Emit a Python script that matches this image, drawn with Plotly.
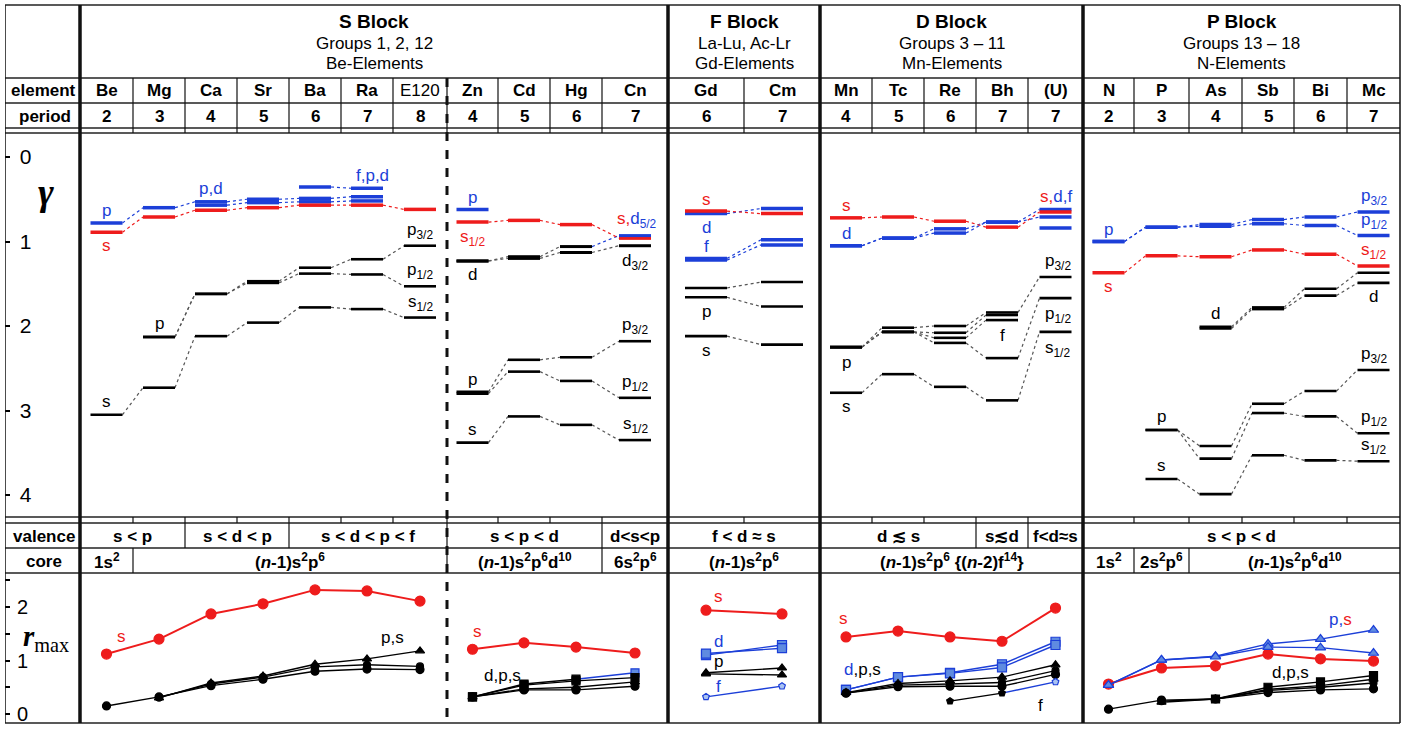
import plotly.graph_objects as go

W, H = 1403, 730
SANS = "Liberation Sans, Arial, sans-serif"
SERIF = "Liberation Serif, Times New Roman, serif"
RED = "#ee1c1c"
BLUE = "#1c3fd8"
BLUE_FILL = "#5f8be0"
BLACK = "#000000"
DOT = "#555555"

# ---------------- table content ----------------
elements = ["Be", "Mg", "Ca", "Sr", "Ba", "Ra", "E120",
            "Zn", "Cd", "Hg", "Cn",
            "Gd", "Cm",
            "Mn", "Tc", "Re", "Bh", "(U)",
            "N", "P", "As", "Sb", "Bi", "Mc"]
periods = [2, 3, 4, 5, 6, 7, 8, 4, 5, 6, 7, 6, 7, 4, 5, 6, 7, 7, 2, 3, 4, 5, 6, 7]

grp_s = elements[0:7]
grp_zn = elements[7:11]
grp_f = elements[11:13]
grp_d = elements[13:18]
grp_p = elements[18:24]

blocks = [("S Block", "Groups 1, 2, 12", "Be-Elements", "Be", "Cn"),
          ("F Block", "La-Lu, Ac-Lr", "Gd-Elements", "Gd", "Cm"),
          ("D Block", "Groups 3 \u2013 11", "Mn-Elements", "Mn", "(U)"),
          ("P Block", "Groups 13 \u2013 18", "N-Elements", "N", "Mc")]

valence_cells = [("s < p", "Be", "Mg"), ("s < d < p", "Ca", "Sr"),
                 ("s < d < p < f", "Ba", "E120"), ("s < p < d", "Zn", "Hg"),
                 ("d<s<p", "Cn", "Cn"), ("f < d \u2248 s", "Gd", "Cm"),
                 ("d \u2272 s", "Mn", "Re"), ("s\u2272d", "Bh", "Bh"),
                 ("f<d\u2248s", "(U)", "(U)"), ("s < p < d", "N", "Mc")]

NM1 = "(<i>n</i>-1)s<sup>2</sup>p<sup>6</sup>"
core_cells = [("1s<sup>2</sup>", "Be", "Be"), (NM1, "Mg", "E120"),
              (NM1 + "d<sup>10</sup>", "Zn", "Hg"), ("6s<sup>2</sup>p<sup>6</sup>", "Cn", "Cn"),
              (NM1, "Gd", "Cm"), (NM1 + " {(<i>n</i>-2)f<sup>14</sup>}", "Mn", "(U)"),
              ("1s<sup>2</sup>", "N", "N"), ("2s<sup>2</sup>p<sup>6</sup>", "P", "P"),
              (NM1 + "d<sup>10</sup>", "As", "Mc")]

# ---------------- gamma levels ----------------
# S block: Be Mg Ca Sr Ba Ra E120
sb_val_s = [0.89, 0.71, 0.63, 0.60, 0.57, 0.57, 0.62]
sb_val_p = [0.78, 0.60, 0.53, 0.50, 0.49, 0.47, None]
sb_val_d = [None, None, 0.57, 0.54, 0.53, 0.52, None]
sb_val_f = [None, None, None, None, 0.355, 0.37, None]
sb_core_s = [3.05, 2.73, 2.12, 1.96, 1.78, 1.80, 1.90]
sb_core_p3 = [None, 2.13, 1.62, 1.47, 1.31, 1.21, 1.05]
sb_core_p1 = [None, 2.13, 1.62, 1.49, 1.38, 1.39, 1.53]
# group 12: Zn Cd Hg Cn
zn_val_s = [0.77, 0.75, 0.80, 0.96]
zn_val_p = [0.62, None, None, None]
zn_d5 = [1.23, 1.18, 1.06, 0.93]
zn_d3 = [1.23, 1.20, 1.13, 1.05]
zn_core_p3 = [2.78, 2.40, 2.37, 2.18]
zn_core_p1 = [2.80, 2.54, 2.65, 2.85]
zn_core_s = [3.38, 3.07, 3.17, 3.35]
# F block: Gd Cm
f_val_s = [0.64, 0.67]
f_val_d = [0.67, 0.61]
f_val_f1 = [1.20, 0.98]
f_val_f2 = [1.22, 1.04]
f_core_p1 = [1.55, 1.48]
f_core_p2 = [1.66, 1.77]
f_core_s = [2.12, 2.22]
# D block: Mn Tc Re Bh (U)
d_val_s = [0.72, 0.71, 0.76, 0.83, 0.65]
d_val_d1 = [1.05, 0.96, 0.85, 0.77, 0.62]
d_val_d2 = [1.05, 0.96, 0.90, 0.77, 0.71]
d_val_f = [None, None, None, None, 0.84]
d_core_p1 = [2.25, 2.02, 2.00, 1.84, 1.42]
d_core_p2 = [2.25, 2.07, 2.08, 1.87, None]
d_core_p3 = [2.25, 2.07, 2.14, 1.93, None]
d_core_p4 = [2.25, 2.07, 2.20, 2.38, 1.67]
d_core_s = [2.79, 2.57, 2.72, 2.88, 2.07]
# P block: N P As Sb Bi Mc
p_val_p3 = [1.00, 0.83, 0.80, 0.74, 0.71, 0.65]
p_val_p1 = [1.00, 0.83, 0.82, 0.79, 0.81, 0.93]
p_val_s = [1.37, 1.17, 1.18, 1.10, 1.15, 1.29]
p_core_d1 = [None, None, 2.01, 1.78, 1.56, 1.37]
p_core_d2 = [None, None, 2.03, 1.80, 1.64, 1.49]
p_core_p3 = [None, 3.23, 3.42, 2.92, 2.77, 2.52]
p_core_p1 = [None, 3.23, 3.57, 3.03, 3.07, 3.27]
p_core_s = [None, 3.81, 3.99, 3.53, 3.59, 3.60]

# ---------------- r_max ----------------
sb_r_s = [1.12, 1.40, 1.87, 2.06, 2.32, 2.30, 2.11]
sb_r_p3 = [None, 0.30, 0.58, 0.71, 0.93, 1.03, 1.18]
sb_r_p1 = [None, 0.31, 0.56, 0.69, 0.88, 0.92, 0.89]
sb_r_cs = [0.15, 0.32, 0.53, 0.65, 0.80, 0.84, 0.83]
zn_r_s = [1.21, 1.33, 1.25, 1.14]
zn_r_d5 = [0.32, 0.56, 0.65, 0.77]
zn_r_d3 = [0.32, 0.54, 0.62, 0.68]
zn_r_p = [0.32, 0.47, 0.50, 0.60]
zn_r_cs = [0.32, 0.45, 0.45, 0.52]
f_r_s = [1.94, 1.87]
f_r_d1 = [1.10, 1.29]
f_r_d2 = [1.13, 1.23]
f_r_p1 = [0.77, 0.86]
f_r_p2 = [0.75, 0.73]
f_r_f = [0.32, 0.52]
d_r_s = [1.44, 1.55, 1.44, 1.36, 1.98]
d_r_d1 = [0.45, 0.69, 0.77, 0.93, 1.35]
d_r_d2 = [0.45, 0.69, 0.76, 0.87, 1.29]
d_r_p3 = [0.40, 0.57, 0.62, 0.69, 0.92]
d_r_p1 = [0.39, 0.54, 0.56, 0.59, 0.81]
d_r_cs = [0.39, 0.51, 0.52, 0.52, 0.74]
d_r_f = [None, None, 0.24, 0.39, 0.60]
p_r_s = [0.56, 0.86, 0.90, 1.12, 1.03, 0.99]
p_r_p3 = [0.54, 1.01, 1.08, 1.31, 1.40, 1.57]
p_r_p1 = [0.54, 1.01, 1.07, 1.25, 1.24, 1.14]
p_r_cd = [None, None, 0.28, 0.50, 0.60, 0.72]
p_r_cp3 = [None, 0.22, 0.28, 0.46, 0.53, 0.65]
p_r_cp1 = [None, 0.24, 0.28, 0.44, 0.50, 0.58]
p_r_cs = [0.09, 0.26, 0.28, 0.40, 0.45, 0.47]

VW, CW = 3.5, 2.6  # valence / core level thickness
gamma_levels = [
    (grp_s, sb_val_f, BLUE, VW), (grp_s, sb_val_p, BLUE, VW), (grp_s, sb_val_d, BLUE, VW),
    (grp_s, sb_val_s, RED, VW), (grp_s, sb_core_s, BLACK, CW),
    (grp_s, sb_core_p3, BLACK, CW), (grp_s, sb_core_p1, BLACK, CW),
    (grp_zn, zn_val_p, BLUE, VW), (grp_zn, zn_val_s, RED, VW),
    (grp_zn, zn_d5, [BLACK, BLACK, BLACK, BLUE], 3.0), (grp_zn, zn_d3, BLACK, 3.0),
    (grp_zn, zn_core_p3, BLACK, CW), (grp_zn, zn_core_p1, BLACK, CW), (grp_zn, zn_core_s, BLACK, CW),
    (grp_f, f_val_s, RED, VW), (grp_f, f_val_d, BLUE, VW),
    (grp_f, f_val_f1, BLUE, VW), (grp_f, f_val_f2, BLUE, VW),
    (grp_f, f_core_p1, BLACK, CW), (grp_f, f_core_p2, BLACK, CW), (grp_f, f_core_s, BLACK, CW),
    (grp_d, d_val_d1, BLUE, VW), (grp_d, d_val_d2, BLUE, VW), (grp_d, d_val_f, BLUE, VW),
    (grp_d, d_val_s, RED, VW),
    (grp_d, d_core_p1, BLACK, CW), (grp_d, d_core_p2, BLACK, CW), (grp_d, d_core_p3, BLACK, CW),
    (grp_d, d_core_p4, BLACK, CW), (grp_d, d_core_s, BLACK, CW),
    (grp_p, p_val_p3, BLUE, VW), (grp_p, p_val_p1, BLUE, VW), (grp_p, p_val_s, RED, VW),
    (grp_p, p_core_d1, BLACK, CW), (grp_p, p_core_d2, BLACK, CW),
    (grp_p, p_core_p3, BLACK, CW), (grp_p, p_core_p1, BLACK, CW), (grp_p, p_core_s, BLACK, CW),
]

rmax_series = [
    (grp_s, sb_r_s, RED, "circle", 10), (grp_s, sb_r_p3, BLACK, "triangle-up", 8),
    (grp_s, sb_r_p1, BLACK, "circle", 7), (grp_s, sb_r_cs, BLACK, "circle", 8),
    (grp_zn, zn_r_s, RED, "circle", 10), (grp_zn, zn_r_d5, [BLACK, BLACK, BLACK, BLUE], "square", 8),
    (grp_zn, zn_r_d3, BLACK, "square", 8), (grp_zn, zn_r_p, BLACK, "triangle-up", 8),
    (grp_zn, zn_r_cs, BLACK, "circle", 8),
    (grp_f, f_r_s, RED, "circle", 10), (grp_f, f_r_d1, BLUE, "square", 9), (grp_f, f_r_d2, BLUE, "square", 9),
    (grp_f, f_r_p1, BLACK, "triangle-up", 8), (grp_f, f_r_p2, BLACK, "triangle-up", 8),
    (grp_f, f_r_f, BLUE, "pentagon", 7),
    (grp_d, d_r_s, RED, "circle", 10), (grp_d, d_r_d1, BLUE, "square", 9), (grp_d, d_r_d2, BLUE, "square", 9),
    (grp_d, d_r_p3, BLACK, "triangle-up", 8), (grp_d, d_r_p1, BLACK, "circle", 7),
    (grp_d, d_r_cs, BLACK, "circle", 8), (grp_d, d_r_f, [BLACK, BLACK, BLACK, BLACK, BLUE], "pentagon", 7),
    (grp_p, p_r_s, RED, "circle", 10), (grp_p, p_r_p3, BLUE, "triangle-up", 9),
    (grp_p, p_r_p1, BLUE, "triangle-up", 9),
    (grp_p, p_r_cd, BLACK, "square", 8), (grp_p, p_r_cp3, BLACK, "triangle-up", 8),
    (grp_p, p_r_cp1, BLACK, "circle", 7), (grp_p, p_r_cs, BLACK, "circle", 8),
]


def sp(text, col):
    return '<span style="color:%s">%s</span>' % (col, text)


# labels: element, value, text, colour, x shift, y shift (px)
gamma_labels = [
    ("Be", 0.78, "p", BLUE, 0, 12), ("Be", 0.89, "s", RED, 0, -13),
    ("Ca", 0.53, "p,d", BLUE, 0, 13), ("Ra", 0.37, "f,p,d", BLUE, 5, 13),
    ("Be", 3.05, "s", BLACK, 0, 13), ("Mg", 2.13, "p", BLACK, 0, 13),
    ("E120", 1.05, "p<sub>3/2</sub>", BLACK, 0, 15), ("E120", 1.53, "p<sub>1/2</sub>", BLACK, 0, 15),
    ("E120", 1.90, "s<sub>1/2</sub>", BLACK, 0, 15),
    ("Zn", 0.62, "p", BLUE, 0, 12), ("Zn", 0.77, "s<sub>1/2</sub>", RED, 0, -16),
    ("Zn", 1.23, "d", BLACK, 0, -14), ("Zn", 2.80, "p", BLACK, 0, 14), ("Zn", 3.38, "s", BLACK, 0, 13),
    ("Cn", 0.93, sp("s,", RED) + sp("d<sub>5/2</sub>", BLUE), BLACK, 2, 16),
    ("Cn", 1.05, "d<sub>3/2</sub>", BLACK, 0, -16), ("Cn", 2.18, "p<sub>3/2</sub>", BLACK, 0, 15),
    ("Cn", 2.85, "p<sub>1/2</sub>", BLACK, 0, 15), ("Cn", 3.35, "s<sub>1/2</sub>", BLACK, 0, 15),
    ("Gd", 0.64, "s", RED, 0, 12), ("Gd", 0.67, "d", BLUE, 0, -14),
    ("Gd", 1.20, "f", BLUE, 0, 12), ("Gd", 1.66, "p", BLACK, 0, -14), ("Gd", 2.12, "s", BLACK, 0, -14),
    ("Mn", 0.72, "s", RED, 0, 12), ("Mn", 1.05, "d", BLUE, 0, 12),
    ("Mn", 2.25, "p", BLACK, 0, -15), ("Mn", 2.79, "s", BLACK, 0, -14), ("Bh", 1.93, "f", BLACK, 0, -15),
    ("(U)", 0.62, sp("s,", RED) + sp("d,f", BLUE), BLACK, 0, 13),
    ("(U)", 1.42, "p<sub>3/2</sub>", BLACK, 2, 15), ("(U)", 1.67, "p<sub>1/2</sub>", BLACK, 2, -17),
    ("(U)", 2.07, "s<sub>1/2</sub>", BLACK, 2, -17),
    ("N", 1.00, "p", BLUE, 0, 12), ("N", 1.37, "s", RED, 0, -14),
    ("Mc", 0.65, "p<sub>3/2</sub>", BLUE, 0, 15), ("Mc", 0.93, "p<sub>1/2</sub>", BLUE, 0, 15),
    ("Mc", 1.29, "s<sub>1/2</sub>", RED, 0, 15), ("Mc", 1.49, "d", BLACK, 0, -14),
    ("As", 2.01, "d", BLACK, 0, 13), ("P", 3.23, "p", BLACK, 0, 13), ("P", 3.81, "s", BLACK, 0, 13),
    ("Mc", 2.52, "p<sub>3/2</sub>", BLACK, 0, 15), ("Mc", 3.27, "p<sub>1/2</sub>", BLACK, 0, 15),
    ("Mc", 3.60, "s<sub>1/2</sub>", BLACK, 0, 15),
]
rmax_labels = [
    ("Be", 1.12, "s", RED, 15, 18), ("Ra", 1.03, "p,s", BLACK, 25, 21),
    ("Zn", 1.21, "s", RED, 5, 18), ("Zn", 0.32, "d,p,s", BLACK, 30, 21),
    ("Gd", 1.94, "s", RED, 12, 14), ("Gd", 1.13, "d", BLUE, 12, 12),
    ("Gd", 0.77, "p", BLACK, 12, 11), ("Gd", 0.32, "f", BLUE, 12, 10),
    ("Mn", 1.44, "s", RED, -3, 18), ("Mn", 0.45, sp("d", BLUE) + ",p,s", BLACK, 16, 20),
    ("(U)", 0.60, "f", BLACK, -15, -24),
    ("Mc", 1.57, sp("p,", BLUE) + sp("s", RED), BLACK, -33, 11), ("Sb", 0.50, "d,p,s", BLACK, 22, 15),
]

# ---------------- geometry (pixels) ----------------
col_edges = [80, 133, 185, 237, 289, 341, 393, 447, 498, 550, 602, 668, 744,
             820, 872, 924, 976, 1028, 1083, 1134, 1189, 1242, 1294, 1347, 1400]
left = {e: col_edges[i] for i, e in enumerate(elements)}
right = {e: col_edges[i + 1] for i, e in enumerate(elements)}
xc = {e: (left[e] + right[e]) / 2 for e in elements}

Y_TOP, Y_HEAD, Y_ELEM, Y_PER, Y_GAP1 = 5, 78, 103, 128, 133
Y_GB, Y_GAP2, Y_VAL, Y_CORE, Y_BOT = 517, 523, 548, 573, 723
G0, GPX = 157, 84.5   # gamma = 0 position and px per unit
R0, RPX = 714, 53.5   # r = 0 position and px per unit


def py(y):
    return 1 - y / H


def hw(e):
    return 21 if e in grp_f else 16


fig = go.Figure()

# gamma levels
segs, cons = {}, {}
for elems, vals, cols, width in gamma_levels:
    if isinstance(cols, str):
        cols = [cols] * len(vals)
    prev = None
    for e, v, c in zip(elems, vals, cols):
        if v is None:
            prev = None
            continue
        sx, sy = segs.setdefault((c, width), ([], []))
        sx += [xc[e] - hw(e), xc[e] + hw(e), None]
        sy += [v, v, None]
        if prev is not None:
            pe, pv = prev
            cc = DOT if c == BLACK else c
            cx, cy = cons.setdefault(cc, ([], []))
            cx += [xc[pe] + hw(pe), xc[e] - hw(e), None]
            cy += [pv, v, None]
        prev = (e, v)

for c, (cx, cy) in cons.items():
    fig.add_trace(go.Scatter(x=cx, y=cy, mode="lines", yaxis="y",
                             line=dict(color=c, width=1.2, dash="dot"),
                             hoverinfo="skip", showlegend=False))
for (c, w), (sx, sy) in segs.items():
    fig.add_trace(go.Scatter(x=sx, y=sy, mode="lines", yaxis="y",
                             line=dict(color=c, width=w), hoverinfo="skip", showlegend=False))

# r_max curves
for elems, vals, cols, sym, size in rmax_series:
    if isinstance(cols, str):
        cols = [cols] * len(vals)
    xs = [xc[e] for e in elems]
    lines = {}
    for i in range(len(vals) - 1):
        if vals[i] is None or vals[i + 1] is None:
            continue
        lx, ly = lines.setdefault(cols[i + 1], ([], []))
        lx += [xs[i], xs[i + 1], None]
        ly += [vals[i], vals[i + 1], None]
    for c, (lx, ly) in lines.items():
        fig.add_trace(go.Scatter(x=lx, y=ly, mode="lines", yaxis="y2",
                                 line=dict(color=c, width=2 if c == RED else 1.4),
                                 hoverinfo="skip", showlegend=False))
    pts = [(x, v, c) for x, v, c in zip(xs, vals, cols) if v is not None]
    fills = [("#a9c2f2" if sym == "pentagon" else BLUE_FILL) if c == BLUE else c for _, _, c in pts]
    fig.add_trace(go.Scatter(x=[p[0] for p in pts], y=[p[1] for p in pts], mode="markers", yaxis="y2",
                             marker=dict(symbol=sym, size=size, color=fills,
                                         line=dict(color=[p[2] for p in pts], width=1.2)),
                             hoverinfo="skip", showlegend=False))

ann = []


def txt(x, y, s, size=17, color=BLACK, family=SANS):
    ann.append(dict(x=x, y=py(y), xref="x", yref="paper", text=s, showarrow=False,
                    xanchor="center", yanchor="middle",
                    font=dict(size=size, color=color, family=family)))


for e, v, s, c, dx, dy in gamma_labels:
    ann.append(dict(x=xc[e], y=v, xref="x", yref="y", text=s, showarrow=False,
                    xanchor="center", yanchor="middle",
                    xshift=dx, yshift=dy, font=dict(size=17, color=c, family=SANS)))
for e, v, s, c, dx, dy in rmax_labels:
    ann.append(dict(x=xc[e], y=v, xref="x", yref="y2", text=s, showarrow=False,
                    xanchor="center", yanchor="middle",
                    xshift=dx, yshift=dy, font=dict(size=17, color=c, family=SANS)))

# header / table text
for title, l2, l3, e0, e1 in blocks:
    cx = (left[e0] + right[e1]) / 2
    txt(cx, 21, "<b>%s</b>" % title, size=19)
    txt(cx, 44, l2, size=17)
    txt(cx, 64, l3, size=17)
for e, p in zip(elements, periods):
    txt(xc[e], 91, e if e == "E120" else "<b>%s</b>" % e, size=17)
    txt(xc[e], 116, "<b>%d</b>" % p, size=17)
for s, e0, e1 in valence_cells:
    txt((left[e0] + right[e1]) / 2, 536, "<b>%s</b>" % s, size=17)
for s, e0, e1 in core_cells:
    txt((left[e0] + right[e1]) / 2, 561, "<b>%s</b>" % s, size=17)
txt(43, 91, "<b>element</b>", size=17)
txt(45, 116, "<b>period</b>", size=17)
txt(44, 536, "<b>valence</b>", size=17)
txt(44, 561, "<b>core</b>", size=17)
txt(46, 192, "<b><i>\u03b3</i></b>", size=38, family=SERIF)
txt(46, 638, "<b><i>r</i></b><sub>max</sub>", size=29, family=SERIF)

# grid lines
shapes = []


def hline(y, w=1.3):
    shapes.append(dict(type="line", xref="x", yref="paper", x0=5, x1=1400, y0=py(y), y1=py(y),
                       line=dict(color="#222222", width=w)))


def vline(x, y0, y1, w=1.2, dash="solid"):
    shapes.append(dict(type="line", xref="x", yref="paper", x0=x, x1=x, y0=py(y0), y1=py(y1),
                       line=dict(color="#111111", width=w, dash=dash)))


for y in [Y_TOP, Y_HEAD, Y_ELEM, Y_PER, Y_GAP1, Y_GB, Y_GAP2, Y_VAL, Y_CORE, Y_BOT]:
    hline(y)
for x in col_edges[1:-1]:
    vline(x, Y_HEAD, Y_GAP1)
    vline(x, Y_GB, Y_GAP2)
for _, e0, _ in valence_cells:
    vline(left[e0], Y_GAP2, Y_VAL)
for _, e0, _ in core_cells:
    vline(left[e0], Y_VAL, Y_CORE)
vline(5, Y_TOP, Y_BOT, w=1.5)
vline(1400, Y_TOP, Y_BOT, w=1.5)
for e in ["Be", "Gd", "Mn", "N"]:
    vline(left[e], Y_TOP, Y_BOT, w=3.5)
vline(left["Zn"], Y_HEAD, Y_BOT, w=3, dash="dash")

fig.update_layout(
    width=W, height=H, margin=dict(l=0, r=0, t=0, b=0),
    paper_bgcolor="white", plot_bgcolor="white",
    xaxis=dict(domain=[5 / W, 1], range=[5, W], visible=False, fixedrange=True),
    yaxis=dict(domain=[py(Y_GB), py(Y_GAP1)],
               range=[(Y_GB - G0) / GPX, (Y_GAP1 - G0) / GPX],
               anchor="x", tickvals=[0, 1, 2, 3, 4], ticks="inside", ticklen=5, tickwidth=1.5,
               tickcolor="black", ticklabelposition="inside", ticklabelstandoff=11,
               showgrid=False, zeroline=False,
               showline=False, tickfont=dict(size=21, family=SANS, color=BLACK)),
    yaxis2=dict(domain=[0, py(Y_CORE)],
                range=[(R0 - H) / RPX, (R0 - Y_CORE) / RPX],
                anchor="x", tickvals=[0, 0.5, 1, 1.5, 2, 2.5], ticktext=["0", "", "1", "", "2", ""],
                ticks="inside", ticklen=5, tickwidth=1.5, tickcolor="black",
                ticklabelposition="inside", ticklabelstandoff=8,
                showgrid=False, zeroline=False, showline=False,
                tickfont=dict(size=20, family=SANS, color=BLACK)),
    shapes=shapes, annotations=ann,
)

fig.write_html("out.html", config={"displayModeBar": False},
               post_script="document.body.style.margin='0px';")
